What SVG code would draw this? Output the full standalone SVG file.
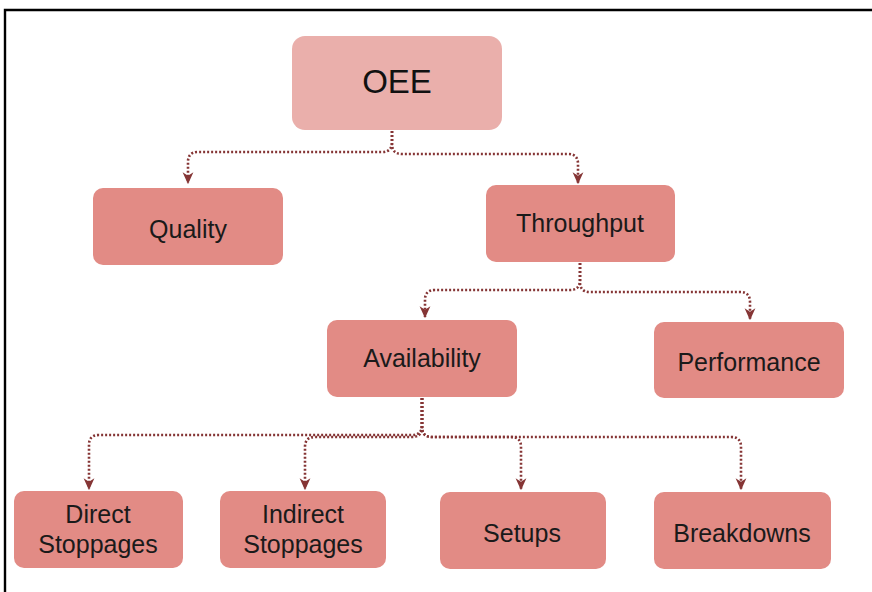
<svg xmlns="http://www.w3.org/2000/svg" width="872" height="592" viewBox="0 0 872 592">
  <style>
    .box { fill: #e28b85; }
    .root { fill: #eaafab; }
    .lbl { font-family: "Liberation Sans", Arial, sans-serif; font-size: 25px; fill: #1a1a1a; text-anchor: middle; }
    .big { font-size: 33px; fill: #111; }
    .conn { fill: none; stroke: #853535; stroke-width: 2.6; stroke-dasharray: 2 2; marker-end: url(#arrow); }
  </style>
  <defs>
    <marker id="arrow" markerUnits="userSpaceOnUse" markerWidth="12" markerHeight="12" viewBox="0 0 10 10" refX="9" refY="5" orient="auto">
      <path d="M0,0.5 L10,5 L0,9.5 L3,5 z" fill="#853535"/>
    </marker>
  </defs>

  <rect width="872" height="592" fill="#fff"/>
  <path d="M5 592 V10 H872" fill="none" stroke="#000" stroke-width="2.4"/>

  <g id="connectors">
    <path class="conn" d="M392 131 V142 Q392 152 382 152 H198 Q188 152 188 162 V183"/>
    <path class="conn" d="M392 131 V144 Q392 154 402 154 H568 Q578 154 578 164 V183"/>
    <path class="conn" d="M580 263 V280 Q580 290 570 290 H435 Q425 290 425 300 V317"/>
    <path class="conn" d="M580 263 V282 Q580 292 590 292 H740 Q750 292 750 302 V319"/>
    <path class="conn" d="M422 398 V425 Q422 435 412 435 H99 Q89 435 89 445 V489"/>
    <path class="conn" d="M422 398 V427 Q422 437 412 437 H315 Q305 437 305 447 V489"/>
    <path class="conn" d="M422 398 V427 Q422 437 432 437 H511 Q521 437 521 447 V489"/>
    <path class="conn" d="M422 398 V427 Q422 437 432 437 H731 Q741 437 741 447 V489"/>
  </g>

  <g id="oee">
    <rect class="root" x="292" y="36" width="210" height="94" rx="13"/>
    <text class="lbl big" x="397" y="93">OEE</text>
  </g>
  <g id="quality">
    <rect class="box" x="93" y="188" width="190" height="77" rx="10"/>
    <text class="lbl" x="188" y="238">Quality</text>
  </g>
  <g id="throughput">
    <rect class="box" x="486" y="185" width="189" height="77" rx="10"/>
    <text class="lbl" x="580" y="232">Throughput</text>
  </g>
  <g id="availability">
    <rect class="box" x="327" y="320" width="190" height="77" rx="10"/>
    <text class="lbl" x="422" y="367">Availability</text>
  </g>
  <g id="performance">
    <rect class="box" x="654" y="322" width="190" height="76" rx="10"/>
    <text class="lbl" x="749" y="371">Performance</text>
  </g>
  <g id="direct-stoppages">
    <rect class="box" x="14" y="491" width="169" height="77" rx="10"/>
    <text class="lbl" x="98" y="523">Direct</text>
    <text class="lbl" x="98" y="553">Stoppages</text>
  </g>
  <g id="indirect-stoppages">
    <rect class="box" x="220" y="491" width="166" height="77" rx="10"/>
    <text class="lbl" x="303" y="523">Indirect</text>
    <text class="lbl" x="303" y="553">Stoppages</text>
  </g>
  <g id="setups">
    <rect class="box" x="440" y="492" width="166" height="77" rx="10"/>
    <text class="lbl" x="522" y="542">Setups</text>
  </g>
  <g id="breakdowns">
    <rect class="box" x="654" y="492" width="177" height="77" rx="10"/>
    <text class="lbl" x="742" y="542">Breakdowns</text>
  </g>
</svg>
